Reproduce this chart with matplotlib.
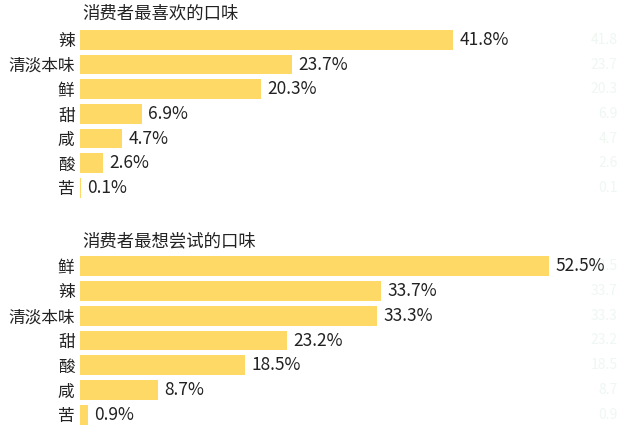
import matplotlib
matplotlib.use("Agg")
import matplotlib.pyplot as plt

plt.rcParams['font.family'] = ['Noto Sans CJK SC', 'DejaVu Sans']

# 消费者最喜欢的口味
fav_labels = ["辣", "清淡本味", "鲜", "甜", "咸", "酸", "苦"]
fav_values = [41.8, 23.7, 20.3, 6.9, 4.7, 2.6, 0.1]

# 消费者最想尝试的口味
try_labels = ["鲜", "辣", "清淡本味", "甜", "酸", "咸", "苦"]
try_values = [52.5, 33.7, 33.3, 23.2, 18.5, 8.7, 0.9]

BAR = "#FFD966"
W, H = 620, 433


def draw(ax, title, labels, values, title_y):
    y = list(range(len(labels)))
    ax.barh(y, values, height=0.8, color=BAR)
    ax.set_xlim(0, 60)
    ax.set_ylim(len(labels) - 0.5, -0.5)
    ax.set_yticks(y)
    ax.set_yticklabels(labels, fontsize=12, color="#222222")
    ax.tick_params(axis="y", length=0, pad=4)
    ax.set_xticks([])
    for s in ax.spines.values():
        s.set_visible(False)
    for yi, v in zip(y, values):
        ax.text(v + 0.7, yi, f"{v}%", va="center", ha="left",
                fontsize=12.5, color="#222222", zorder=3)
        # faint echo of the value on the far right
        ax.text(60.2, yi, f"{v}", va="center", ha="right",
                fontsize=10, color="#eef7f1", zorder=1)
    fig.text(82 / W, 1 - title_y / H, title, fontsize=12.5,
             color="#222222", va="center", ha="left")


fig = plt.figure(figsize=(6.2, 4.33), dpi=100)
ax1 = fig.add_axes([80 / W, 1 - 200.3 / H, 536 / W, 172.7 / H])
ax2 = fig.add_axes([80 / W, 1 - 427.4 / H, 536 / W, 173.8 / H])

draw(ax1, "消费者最喜欢的口味", fav_labels, fav_values, 14)
draw(ax2, "消费者最想尝试的口味", try_labels, try_values, 241)

fig.savefig("out.png", dpi=100)
